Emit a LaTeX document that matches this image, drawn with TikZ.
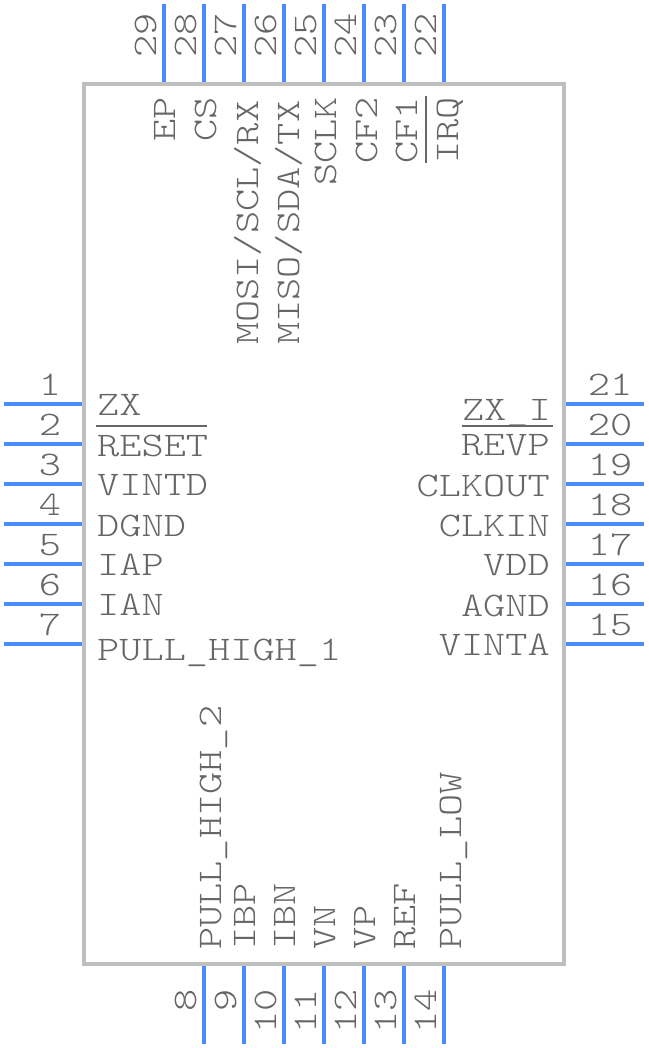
\documentclass[tikz,border=0pt]{standalone}
\usepackage{fontspec}
\setmonofont[FakeStretch=1.225]{Latin Modern Mono Light}
\definecolor{pinblue}{HTML}{4A8CFF}
\definecolor{bodygray}{HTML}{BFBFBF}
\definecolor{textgray}{HTML}{666666}
\begin{document}
\begin{tikzpicture}[x=1pt,y=-1pt,font=\ttfamily\fontsize{34.5}{36}\selectfont]
    \tikzset{
        pin line/.style={draw=pinblue, line width=4pt},
        chip body/.style={rectangle, draw=bodygray, line width=4pt, inner sep=0, minimum width=480pt, minimum height=880pt},
        pin text/.style={text=textgray, inner sep=0},
        bar line/.style={draw=textgray, line width=2pt},
        up/.style={rotate=90}
      }
\useasboundingbox (0,0) rectangle (648,1048);
\node[chip body] (body) at (324,524) {};
% pins left, right, top, bottom
\foreach \n/\y in {1/404,2/444,3/484,4/524,5/564,6/604,7/644}{
    \coordinate (end\n) at (4,\y);
    \node[pin text, anchor=base] (num\n) at (50,\y-9) {\n};
    \draw[pin line] (end\n) -- (end\n -| body.west);
}
\foreach \n/\y in {21/404,20/444,19/484,18/524,17/564,16/604,15/644}{
    \coordinate (end\n) at (644,\y);
    \node[pin text, anchor=base] (num\n) at (610,\y-9) {\n};
    \draw[pin line] (end\n) -- (end\n -| body.east);
}
\foreach \n/\x in {29/164,28/204,27/244,26/284,25/324,24/364,23/404,22/444}{
    \coordinate (end\n) at (\x,4);
    \node[pin text, up, anchor=base west] (num\n) at (\x-8,58) {\n};
    \draw[pin line] (end\n) -- (end\n |- body.north);
}
\foreach \n/\x in {8/204,9/244,10/284,11/324,12/364,13/404,14/444}{
    \coordinate (end\n) at (\x,1044);
    \node[pin text, up, anchor=base east] (num\n) at (\x-8,989) {\n};
    \draw[pin line] (end\n) -- (end\n |- body.south);
}
% names on the left
\foreach \s/\t/\y in {zx/ZX/415,reset/RESET/456,vintd/VINTD/495,dgnd/DGND/536,iap/IAP/575,ian/IAN/615}{
    \node[pin text, anchor=base west] (\s) at (97,\y) {\t};
}
\node[pin text, anchor=base west] (pullhighone) at (97,660) {PULL\_HIGH\_1};
% names on the right
\foreach \s/\t/\y in {revp/REVP/455,clkout/CLKOUT/496,clkin/CLKIN/536,vdd/VDD/575,agnd/AGND/616,vinta/VINTA/655}{
    \node[pin text, anchor=base east] (\s) at (550,\y) {\t};
}
\node[pin text, anchor=base east] (zxi) at (551,420) {ZX\_I};
% names on top
\foreach \s/\t/\x in {ep/EP/175,cs/CS/216,sclk/SCLK/336,cftwo/CF2/377,cfone/CF1/417,irq/IRQ/458}{
    \node[pin text, up, anchor=base east] (\s) at (\x,97) {\t};
}
\node[pin text, up, anchor=base west] (mosi) at (258,345) {MOSI/SCL/RX};
\node[pin text, up, anchor=base west] (miso) at (299,345) {MISO/SDA/TX};
% names at the bottom
\foreach \s/\t/\x in {ibp/IBP/255,ibn/IBN/295,vn/VN/335,vp/VP/375,ref/REF/415}{
    \node[pin text, up, anchor=base west] (\s) at (\x,950) {\t};
}
\node[pin text, up, anchor=base west] (pullhightwo) at (221,950) {PULL\_HIGH\_2};
\node[pin text, up, anchor=base west] (pulllow) at (461,950) {PULL\_LOW};
% bars over active low names
\coordinate (resetbar) at (96,426);
\coordinate (revpbar) at (553,426);
\coordinate (irqbar) at (426,96);
\draw[bar line] (resetbar) -- ++(111,0);
\draw[bar line] (revpbar) -- ++(-91,0);
\draw[bar line] (irqbar) -- ++(0,67);
\end{tikzpicture}
\end{document}
